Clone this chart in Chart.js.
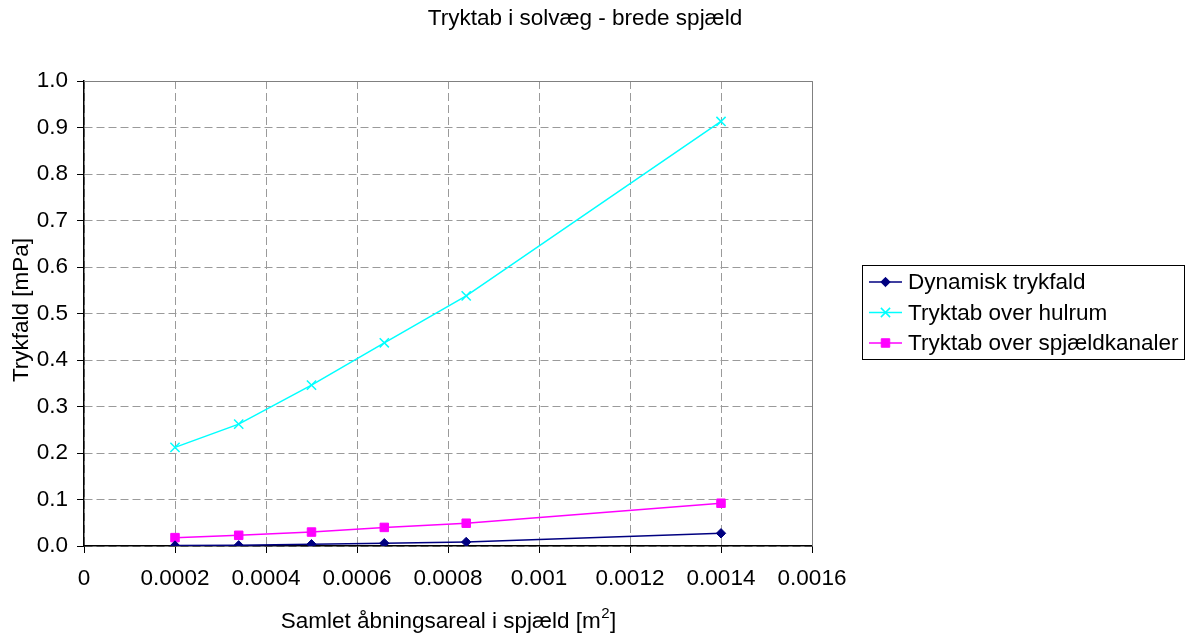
<!DOCTYPE html>
<html>
<head>
<meta charset="utf-8">
<script src="https://cdn.jsdelivr.net/npm/chart.js@4.4.1/dist/chart.umd.min.js"></script>
<style>
  html, body { margin: 0; padding: 0; background: #fff; }
  #wrap { width: 1192px; height: 635px; position: relative; }
</style>
</head>
<body>
<div id="wrap"><canvas id="c" width="1192" height="635"></canvas></div>
<script>
// Opening area of the dampers [m²]
const areas = [0.0002, 0.00034, 0.0005, 0.00066, 0.00084, 0.0014];
// Pressure drops [mPa]
const dynamiskTrykfald = [0.001, 0.0015, 0.0037, 0.006, 0.0086, 0.0273];
const tryktabHulrum = [0.212, 0.262, 0.346, 0.437, 0.538, 0.913];
const tryktabSpjaeldkanaler = [0.018, 0.023, 0.030, 0.040, 0.049, 0.092];

const seriesNames = ['Dynamisk trykfald', 'Tryktab over hulrum', 'Tryktab over spjældkanaler'];
const xTickLabels = ['0', '0.0002', '0.0004', '0.0006', '0.0008', '0.001', '0.0012', '0.0014', '0.0016'];
const yTickLabels = ['0.0', '0.1', '0.2', '0.3', '0.4', '0.5', '0.6', '0.7', '0.8', '0.9', '1.0'];

const titleText = 'Tryktab i solvæg - brede spjæld';
const xTitleMain = 'Samlet åbningsareal i spjæld [m';
const xTitleSup = '2';
const xTitleEnd = ']';
const yTitle = 'Trykfald [mPa]';

const FONT = '"Liberation Sans", Arial, sans-serif';
const FS = 22.5;

function pts(ys) { return areas.map((x, i) => ({ x: x, y: ys[i] })); }

// Top/right frame of the plot area, titles and boxed legend
const decor = {
  id: 'decor',
  beforeDatasetsDraw(chart) {
    const { ctx, chartArea: a } = chart;
    ctx.save();
    ctx.strokeStyle = '#808080';
    ctx.lineWidth = 1;
    ctx.beginPath();
    ctx.moveTo(a.left, a.top + 0.5);
    ctx.lineTo(a.right + 0.5, a.top + 0.5);
    ctx.lineTo(a.right + 0.5, a.bottom);
    ctx.stroke();
    ctx.restore();
  },
  afterDraw(chart) {
    const { ctx, chartArea: a } = chart;
    ctx.save();
    ctx.fillStyle = '#000';
    ctx.font = FS + 'px ' + FONT;
    ctx.textAlign = 'center';
    ctx.textBaseline = 'middle';
    ctx.fillText(titleText, 585, 19);

    // x axis title with superscript
    ctx.textBaseline = 'alphabetic';
    ctx.textAlign = 'left';
    const supFont = '15px ' + FONT;
    ctx.font = FS + 'px ' + FONT;
    const w1 = ctx.measureText(xTitleMain).width;
    const w3 = ctx.measureText(xTitleEnd).width;
    ctx.font = supFont;
    const w2 = ctx.measureText(xTitleSup).width;
    const cx = (a.left + a.right) / 2;
    let x0 = cx - (w1 + w2 + w3) / 2;
    const base = 628;
    ctx.font = FS + 'px ' + FONT;
    ctx.fillText(xTitleMain, x0, base);
    ctx.font = supFont;
    ctx.fillText(xTitleSup, x0 + w1 + 0.5, base - 10);
    ctx.font = FS + 'px ' + FONT;
    ctx.fillText(xTitleEnd, x0 + w1 + w2 + 1, base);

    // y axis title
    ctx.save();
    ctx.translate(22, 310);
    ctx.rotate(-Math.PI / 2);
    ctx.textAlign = 'center';
    ctx.textBaseline = 'middle';
    ctx.fillText(yTitle, 0, 0);
    ctx.restore();

    // legend
    const lx = 862, ly = 265, lw = 322, lh = 94;
    ctx.fillStyle = '#fff';
    ctx.fillRect(lx, ly, lw, lh);
    ctx.strokeStyle = '#000';
    ctx.lineWidth = 1;
    ctx.strokeRect(lx + 0.5, ly + 0.5, lw, lh);
    ctx.textAlign = 'left';
    ctx.textBaseline = 'middle';
    chart.data.datasets.forEach((ds, i) => {
      const cy = 282 + i * 30.5;
      ctx.strokeStyle = ds.borderColor;
      ctx.lineWidth = 1.5;
      ctx.beginPath();
      ctx.moveTo(869, cy);
      ctx.lineTo(902, cy);
      ctx.stroke();
      ctx.fillStyle = ds.pointBackgroundColor;
      ctx.strokeStyle = ds.pointBorderColor;
      ctx.lineWidth = ds.pointBorderWidth;
      Chart.helpers.drawPoint(ctx, {
        pointStyle: ds.pointStyle,
        radius: ds.pointRadius,
        borderWidth: ds.pointBorderWidth
      }, 885.5, cy);
      ctx.fillStyle = '#000';
      ctx.font = FS + 'px ' + FONT;
      ctx.fillText(ds.label, 908, cy + 1);
    });
    ctx.restore();
  }
};

new Chart(document.getElementById('c'), {
  type: 'scatter',
  data: {
    datasets: [
      {
        label: seriesNames[0], data: pts(dynamiskTrykfald), showLine: true,
        borderColor: '#000080', backgroundColor: '#000080', borderWidth: 1.5,
        pointStyle: 'rectRot', pointRadius: 4.7, pointBackgroundColor: '#000080',
        pointBorderColor: '#000080', pointBorderWidth: 1
      },
      {
        label: seriesNames[1], data: pts(tryktabHulrum), showLine: true,
        borderColor: '#00FFFF', backgroundColor: '#00FFFF', borderWidth: 1.5,
        pointStyle: 'crossRot', pointRadius: 6.5, pointBackgroundColor: '#00FFFF',
        pointBorderColor: '#00FFFF', pointBorderWidth: 1.5
      },
      {
        label: seriesNames[2], data: pts(tryktabSpjaeldkanaler), showLine: true,
        borderColor: '#FF00FF', backgroundColor: '#FF00FF', borderWidth: 1.5,
        pointStyle: 'rect', pointRadius: 6, pointBackgroundColor: '#FF00FF',
        pointBorderColor: '#FF00FF', pointBorderWidth: 1
      }
    ]
  },
  options: {
    responsive: false,
    animation: false,
    devicePixelRatio: 1,
    layout: { padding: { left: 0, right: 380, top: 81, bottom: 0 } },
    plugins: {
      legend: { display: false },
      title: { display: false },
      tooltip: { enabled: false }
    },
    scales: {
      x: {
        type: 'linear', min: 0, max: 0.0016,
        afterBuildTicks(scale) {
          scale.ticks = xTickLabels.map((_, i) => ({ value: i * 0.0002 }));
        },
        afterFit(scale) { scale.height = 89; },
        ticks: {
          callback: (v, i) => xTickLabels[i],
          color: '#000', font: { family: FONT, size: FS }, padding: 12,
          maxRotation: 0, autoSkip: false
        },
        grid: {
          color: '#9a9a9a', lineWidth: 1, drawTicks: true, tickLength: 7,
          tickColor: '#000', tickBorderDash: [], tickWidth: 1
        },
        border: { display: true, color: '#000', width: 1.5, dash: [8, 4] }
      },
      y: {
        type: 'linear', min: 0, max: 1,
        afterBuildTicks(scale) {
          scale.ticks = yTickLabels.map((_, i) => ({ value: i / 10 }));
        },
        afterFit(scale) { scale.width = 84; },
        ticks: {
          callback: (v, i) => yTickLabels[i],
          color: '#000', font: { family: FONT, size: FS }, padding: 9
        },
        grid: {
          color: '#9a9a9a', lineWidth: 1, drawTicks: true, tickLength: 7,
          tickColor: '#000', tickBorderDash: [], tickWidth: 1
        },
        border: { display: true, color: '#000', width: 1.5, dash: [8, 4] }
      }
    }
  },
  plugins: [decor]
});
</script>
</body>
</html>
